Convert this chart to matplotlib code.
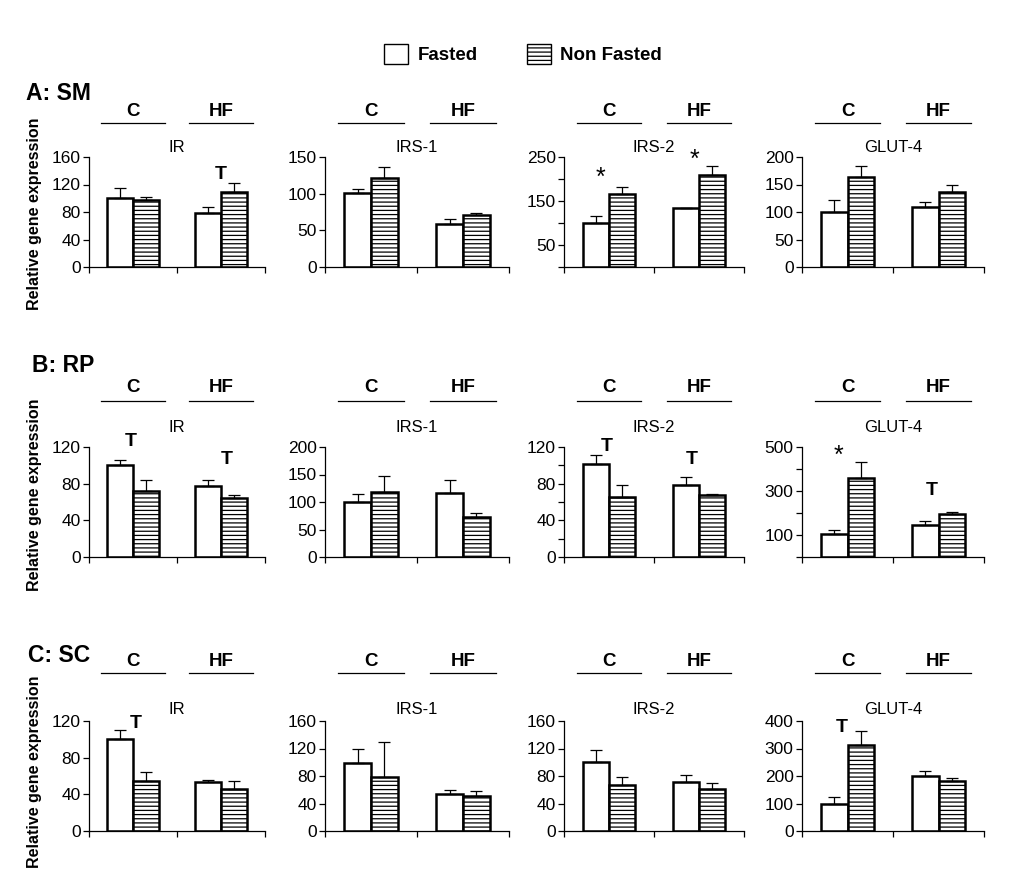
import matplotlib
matplotlib.use("Agg")
import matplotlib.pyplot as plt
import numpy as np
from matplotlib.patches import Patch
from matplotlib.transforms import blended_transform_factory

plt.rcParams["font.family"] = ["Liberation Sans", "DejaVu Sans"]
plt.rcParams["hatch.linewidth"] = 0.9

groups = ["C", "HF"]
genes = ["IR", "IRS-1", "IRS-2", "GLUT-4"]
tissues = ["A: SM", "B: RP", "C: SC"]

# means per gene as [C, HF]; errors are the upper SEM only
sm_fasted = [[100, 78], [101, 58], [99, 135], [100, 110]]
sm_fasted_err = [[15, 9], [6, 7], [16, 0], [22, 9]]
sm_nonfasted = [[97, 109], [121, 71], [167, 208], [164, 136]]
sm_nonfasted_err = [[5, 13], [15, 2], [14, 22], [19, 13]]

rp_fasted = [[100, 77], [100, 116], [101, 79], [105, 145]]
rp_fasted_err = [[6, 7], [15, 24], [10, 8], [18, 17]]
rp_nonfasted = [[72, 64], [119, 72], [65, 68], [357, 194]]
rp_nonfasted_err = [[12, 4], [29, 8], [14, 1], [74, 12]]

sc_fasted = [[100, 53], [99, 54], [101, 71], [98, 199]]
sc_fasted_err = [[10, 3], [20, 6], [17, 11], [27, 21]]
sc_nonfasted = [[55, 46], [79, 51], [67, 61], [312, 181]]
sc_nonfasted_err = [[9, 9], [51, 7], [11, 9], [52, 12]]

# y axis: (max, tick step, labelled ticks or None for all)
sm_axes = [(160, 40, None), (150, 50, None), (250, 50, [50, 150, 250]), (200, 50, None)]
rp_axes = [(120, 40, None), (200, 50, None), (120, 20, [0, 40, 80, 120]), (500, 100, [100, 300, 500])]
sc_axes = [(120, 40, None), (160, 40, None), (160, 40, None), (400, 100, None)]

# significance marks: (row, gene, text, x position, y value)
marks = [
    (0, 0, "T", 1.5, 135),
    (0, 2, "*", 0.41, 203),
    (0, 2, "*", 1.45, 244),
    (1, 0, "T", 0.48, 126),
    (1, 0, "T", 1.57, 106),
    (1, 2, "T", 0.48, 121),
    (1, 2, "T", 1.42, 106),
    (1, 3, "*", 0.40, 458),
    (1, 3, "T", 1.43, 303),
    (2, 0, "T", 0.53, 117),
    (2, 3, "T", 0.44, 377),
]

fasted = [sm_fasted, rp_fasted, sc_fasted]
fasted_err = [sm_fasted_err, rp_fasted_err, sc_fasted_err]
nonfasted = [sm_nonfasted, rp_nonfasted, sc_nonfasted]
nonfasted_err = [sm_nonfasted_err, rp_nonfasted_err, sc_nonfasted_err]
axes_spec = [sm_axes, rp_axes, sc_axes]

W, H = 1019, 889
fig = plt.figure(figsize=(W / 100, H / 100), dpi=100)

col_px = [(89, 265), (325, 509), (564, 744), (802, 984)]
row_px = [(157, 267), (447, 557), (721, 831)]
header_line_px = [123, 401, 673]
header_text_px = [112, 388, 662]
title_px = [148, 428, 709]
ylabel_px = [214, 495, 772]
section_px = [(26, 94), (32, 365), (28, 655)]

bar_w = 0.29
centers = np.arange(len(groups)) + 0.5

for r in range(3):
    top, bottom = row_px[r]
    fig.text(section_px[r][0] / W, 1 - section_px[r][1] / H, tissues[r],
             fontsize=16.5, fontweight="bold", ha="left", va="center")
    fig.text(35 / W, 1 - ylabel_px[r] / H, "Relative gene expression",
             fontsize=11.5, fontweight="bold", rotation=90, ha="center", va="center")
    for c in range(4):
        left, right = col_px[c]
        ax = fig.add_axes([left / W, 1 - bottom / H, (right - left) / W, (bottom - top) / H])
        ymax, step, labelled = axes_spec[r][c]

        ax.bar(centers - bar_w / 2, fasted[r][c], bar_w, color="white",
               edgecolor="black", linewidth=1.8, zorder=2)
        ax.bar(centers + bar_w / 2, nonfasted[r][c], bar_w, color="white",
               edgecolor="black", linewidth=1.8, hatch="----", zorder=2)
        ax.errorbar(centers - bar_w / 2, fasted[r][c],
                    yerr=[np.zeros(2), fasted_err[r][c]], fmt="none",
                    ecolor="black", elinewidth=0.9, capsize=4, capthick=0.9, zorder=3)
        ax.errorbar(centers + bar_w / 2, nonfasted[r][c],
                    yerr=[np.zeros(2), nonfasted_err[r][c]], fmt="none",
                    ecolor="black", elinewidth=0.9, capsize=4, capthick=0.9, zorder=3)

        ax.set_xlim(0, 2)
        ax.set_ylim(0, ymax)
        ticks = np.arange(0, ymax + step, step)
        ax.set_yticks(ticks)
        ax.set_yticklabels([str(t) if labelled is None or t in labelled else "" for t in ticks])
        ax.set_xticks([0, 1, 2])
        ax.set_xticklabels([])
        ax.tick_params(axis="y", direction="out", length=4, width=0.9, labelsize=12.5, pad=2)
        ax.tick_params(axis="x", direction="out", length=4, width=0.9)
        for side in ["top", "right"]:
            ax.spines[side].set_visible(False)
        for side in ["left", "bottom"]:
            ax.spines[side].set_linewidth(0.9)

        trans = blended_transform_factory(ax.transData, fig.transFigure)
        for i, g in enumerate(groups):
            ax.plot([centers[i] - 0.36, centers[i] + 0.36],
                    [1 - header_line_px[r] / H] * 2, color="black", lw=0.9,
                    transform=trans, clip_on=False)
            ax.text(centers[i], 1 - header_text_px[r] / H, g, transform=trans,
                    fontsize=13.5, fontweight="bold", ha="center", va="center")
        ax.text(1.0, 1 - title_px[r] / H, genes[c], transform=trans,
                fontsize=12, ha="center", va="center")

        for mr, mc, txt, mx, my in marks:
            if mr == r and mc == c:
                if txt == "*":
                    ax.text(mx, my, txt, fontsize=18, ha="center", va="center", clip_on=False)
                else:
                    ax.text(mx, my, txt, fontsize=14, fontweight="bold",
                            ha="center", va="center", clip_on=False)

handles = [
    Patch(facecolor="white", edgecolor="black", linewidth=1.0, label="Fasted"),
    Patch(facecolor="white", edgecolor="black", linewidth=1.0, hatch="----", label="Non Fasted"),
]
fig.legend(handles=handles, loc="center", bbox_to_anchor=(523 / W, 1 - 54 / H), ncol=2,
           frameon=False, prop={"size": 13.5, "weight": "bold"}, handlelength=1.3,
           handleheight=1.3, handletextpad=0.5, columnspacing=2.6)

fig.savefig("out.png", dpi=100)
